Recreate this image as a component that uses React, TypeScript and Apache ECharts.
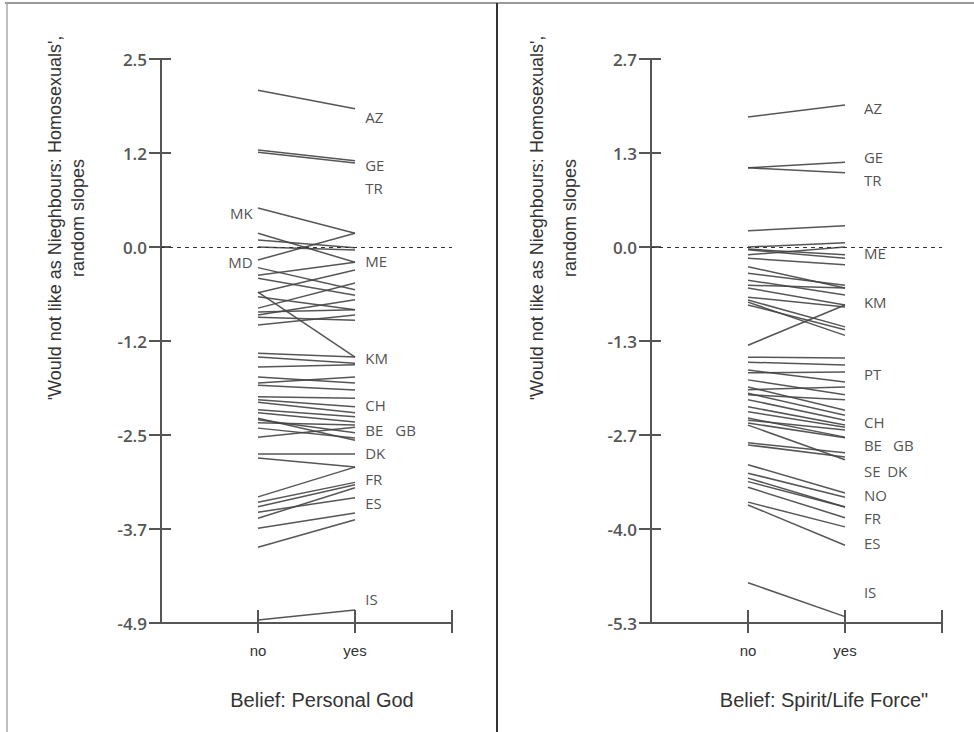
import React, { useEffect, useRef } from 'react';
import * as echarts from 'echarts';

// ---------- Panel 1: Belief: Personal God ----------
const GOD_NO = [
  2.05, 1.27, 1.24, 0.51, 0.18, 0.09, -0.17, 0.0, -0.37, -0.41, -0.6, -0.65, -0.8, -0.59, -0.89,
  -0.92, -0.85, -1.39, -1.44, -1.57, -1.7, -1.78, -1.96, -2.0, -2.13, -2.17, -2.26, -2.3, -2.37,
  -2.49, -2.7, -2.76, -3.27, -3.34, -3.4, -3.55, -3.47, -3.68, -3.93, -4.88, -2.24, -1.81, -2.03,
  -0.27, -1.02,
];
const GOD_YES = [
  1.81, 1.13, 1.1, 0.18, -0.2, -0.01, 0.18, -0.04, -0.2, -0.63, -0.3, -0.82, -0.47, -1.44, -0.69,
  -0.96, -0.82, -1.44, -1.52, -1.54, -1.78, -1.7, -1.98, -2.09, -2.22, -2.29, -2.43, -2.33, -2.5,
  -2.36, -2.7, -2.88, -2.88, -3.08, -3.11, -3.15, -3.28, -3.48, -3.57, -4.75, -2.53, -1.87, -2.17,
  -0.56, -0.89,
];
const GOD_LABELS = ['AZ', 'GE', 'TR', 'ME', 'KM', 'CH', 'BE', 'GB', 'DK', 'FR', 'ES', 'IS', 'MK', 'MD'];
const GOD_LABEL_Y = [1.7, 1.07, 0.77, -0.18, -1.45, -2.07, -2.39, -2.39, -2.7, -3.03, -3.35, -4.61, 0.44, -0.2];
const GOD_LABEL_SIDE = ['yes', 'yes', 'yes', 'yes', 'yes', 'yes', 'yes', 'yes2', 'yes', 'yes', 'yes', 'yes', 'no', 'no'];

// ---------- Panel 2: Belief: Spirit/Life Force ----------
const SPIRIT_NO = [
  1.84, 1.12, 1.12, 0.23, 0.0, -0.04, -0.03, -0.11, -0.16, -0.28, -0.37, -0.47, -0.54, -0.58, -0.71,
  -0.75, -0.78, -0.82, -1.39, -1.56, -1.63, -1.74, -1.78, -1.98, -2.02, -2.07, -2.16, -2.26, -2.33,
  -2.42, -2.49, -2.45, -2.77, -2.8, -2.52, -3.08, -3.2, -3.27, -3.32, -3.4, -3.61, -3.65, -4.75,
  -2.09, -1.88,
];
const SPIRIT_YES = [
  2.01, 1.2, 1.05, 0.3, 0.06, -0.16, -0.11, 0.0, -0.25, -0.58, -0.54, -0.68, -0.58, -0.82, -0.85,
  -1.13, -1.25, -1.17, -0.82, -1.57, -1.67, -1.91, -1.77, -2.31, -1.98, -2.38, -2.45, -2.52, -2.55,
  -2.69, -2.7, -2.59, -2.91, -2.97, -3.01, -3.48, -3.54, -3.68, -3.68, -3.83, -3.96, -4.22, -5.23,
  -2.16, -2.09,
];
const SPIRIT_LABELS = ['AZ', 'GE', 'TR', 'ME', 'KM', 'PT', 'CH', 'BE', 'GB', 'SE', 'DK', 'NO', 'FR', 'ES', 'IS'];
const SPIRIT_LABEL_Y = [1.97, 1.27, 0.95, -0.08, -0.78, -1.8, -2.48, -2.8, -2.8, -3.17, -3.17, -3.51, -3.83, -4.19, -4.88];
const SPIRIT_LABEL_SIDE = ['yes', 'yes', 'yes', 'yes', 'yes', 'yes', 'yes', 'yes', 'yes2', 'yes', 'yes3', 'yes', 'yes', 'yes', 'yes'];

// Axis settings (ticks are evenly spaced; labels rounded to one decimal)
const GOD_AXIS = { min: -4.92, max: 2.46, interval: 1.23 };
const SPIRIT_AXIS = { min: -5.32, max: 2.66, interval: 1.33 };
const X_CATEGORIES = ['no', 'yes'];

const Y_TITLE_1 = "'Would not like as Nieghbours: Homosexuals',";
const Y_TITLE_2 = 'random slopes';
const X_TITLES = ['Belief: Personal God', 'Belief: Spirit/Life Force"'];

const AXIS_COLOR = '#555';
const LINE_COLOR = '#444';

function fmtY(v: number) {
  if (Math.abs(v) < 1e-6) return '0.0';
  return v.toFixed(1);
}

function sideX(side: string, panel: number) {
  if (side === 'no') return 0.95;
  if (panel === 0) return side === 'yes2' ? 2.41 : 2.1;
  if (side === 'yes2') return 2.49;
  if (side === 'yes3') return 2.43;
  return 2.19;
}

function buildOption() {
  const xAxis: any[] = [];
  const yAxis: any[] = [];
  const series: any[] = [];
  const grid: any[] = [
    { left: 161, top: 59, width: 291, height: 564 },
    { left: 651, top: 59, width: 291, height: 564 },
  ];
  const panels = [
    { no: GOD_NO, yes: GOD_YES, labels: GOD_LABELS, ly: GOD_LABEL_Y, side: GOD_LABEL_SIDE, axis: GOD_AXIS },
    { no: SPIRIT_NO, yes: SPIRIT_YES, labels: SPIRIT_LABELS, ly: SPIRIT_LABEL_Y, side: SPIRIT_LABEL_SIDE, axis: SPIRIT_AXIS },
  ];
  panels.forEach((p, g) => {
    xAxis.push({
      gridIndex: g,
      type: 'value',
      min: 0,
      max: 3,
      interval: 1,
      position: 'bottom',
      axisLine: { show: true, onZero: false, lineStyle: { color: AXIS_COLOR, width: 2 } },
      axisTick: { show: true, customValues: [1, 2, 3], length: 10, lineStyle: { color: AXIS_COLOR, width: 2 } },
      axisLabel: {
        customValues: [1, 2],
        formatter: (v: number) => X_CATEGORIES[v - 1] ?? '',
        margin: 20,
        fontSize: 15,
        color: '#333',
        fontFamily: 'Liberation Sans',
      },
      splitLine: { show: false },
    });
    xAxis.push({
      gridIndex: g,
      type: 'value',
      min: 0,
      max: 3,
      interval: 1,
      position: 'bottom',
      axisLine: { show: false, onZero: false },
      axisTick: { show: true, inside: true, customValues: [1, 2, 3], length: 13, lineStyle: { color: AXIS_COLOR, width: 2 } },
      axisLabel: { show: false },
      splitLine: { show: false },
    });
    yAxis.push({
      gridIndex: g,
      type: 'value',
      min: p.axis.min,
      max: p.axis.max,
      interval: p.axis.interval,
      position: 'left',
      axisLine: { show: true, onZero: false, lineStyle: { color: AXIS_COLOR, width: 2 } },
      axisTick: { show: true, length: 12, lineStyle: { color: AXIS_COLOR, width: 2 } },
      axisLabel: { formatter: fmtY, margin: 14, fontSize: 17, fontWeight: 600, color: '#555', fontFamily: 'Open Sans' },
      splitLine: { show: false },
    });
    yAxis.push({
      gridIndex: g,
      type: 'value',
      min: p.axis.min,
      max: p.axis.max,
      interval: p.axis.interval,
      position: 'left',
      axisLine: { show: false, onZero: false },
      axisTick: { show: true, inside: true, length: 10, lineStyle: { color: AXIS_COLOR, width: 2 } },
      axisLabel: { show: false },
      splitLine: { show: false },
    });
    series.push({
      type: 'lines',
      coordinateSystem: 'cartesian2d',
      xAxisIndex: g * 2,
      yAxisIndex: g * 2,
      silent: true,
      lineStyle: { color: LINE_COLOR, width: 1.5, opacity: 0.9 },
      data: p.no.map((a, i) => ({ coords: [[1, a], [2, p.yes[i]]] })),
    });
    series.push({
      type: 'scatter',
      xAxisIndex: g * 2,
      yAxisIndex: g * 2,
      symbolSize: 1,
      silent: true,
      itemStyle: { color: 'rgba(0,0,0,0)' },
      label: {
        show: true,
        formatter: '{b}',
        fontSize: 15,
        color: '#222',
        fontFamily: 'Open Sans',
        distance: 0,
      },
      data: p.labels.map((n, i) => ({
        name: n,
        value: [sideX(p.side[i], g), p.ly[i]],
        label: { position: p.side[i] === 'no' ? 'left' : 'right' },
      })),
      markLine: {
        silent: true,
        symbol: 'none',
        label: { show: false },
        lineStyle: { type: [4, 4], color: '#333', width: 1 },
        data: [{ yAxis: 0 }],
      },
    });
  });

  const titleStyle = { fill: '#333', fontSize: 18, fontFamily: 'Liberation Sans', align: 'center', verticalAlign: 'middle' };
  const graphic: any[] = [
    { type: 'line', shape: { x1: 5, y1: 3, x2: 974, y2: 3 }, style: { stroke: '#999', lineWidth: 2 } },
    { type: 'line', shape: { x1: 7, y1: 3, x2: 7, y2: 732 }, style: { stroke: '#aaa', lineWidth: 1.5 } },
    { type: 'line', shape: { x1: 497, y1: 3, x2: 497, y2: 732 }, style: { stroke: '#333', lineWidth: 2 } },
    { type: 'text', x: 55, y: 218, rotation: Math.PI / 2, style: { ...titleStyle, text: Y_TITLE_1 } },
    { type: 'text', x: 78, y: 218, rotation: Math.PI / 2, style: { ...titleStyle, text: Y_TITLE_2 } },
    { type: 'text', x: 537, y: 218, rotation: Math.PI / 2, style: { ...titleStyle, text: Y_TITLE_1 } },
    { type: 'text', x: 570, y: 218, rotation: Math.PI / 2, style: { ...titleStyle, text: Y_TITLE_2 } },
    { type: 'text', x: 322, y: 700, style: { ...titleStyle, fontSize: 20, text: X_TITLES[0] } },
    { type: 'text', x: 824, y: 700, style: { ...titleStyle, fontSize: 20, text: X_TITLES[1] } },
  ];

  return { animation: false, backgroundColor: '#fff', grid, xAxis, yAxis, series, graphic };
}

export default function App() {
  const ref = useRef<HTMLDivElement>(null);
  useEffect(() => {
    if (!ref.current) return;
    const chart = echarts.init(ref.current, null, { renderer: 'svg' });
    chart.setOption(buildOption() as any);
    return () => chart.dispose();
  }, []);
  return (
    <div
      ref={ref}
      style={{ position: 'fixed', left: 0, top: 0, width: 974, height: 732, background: '#fff' }}
    />
  );
}
